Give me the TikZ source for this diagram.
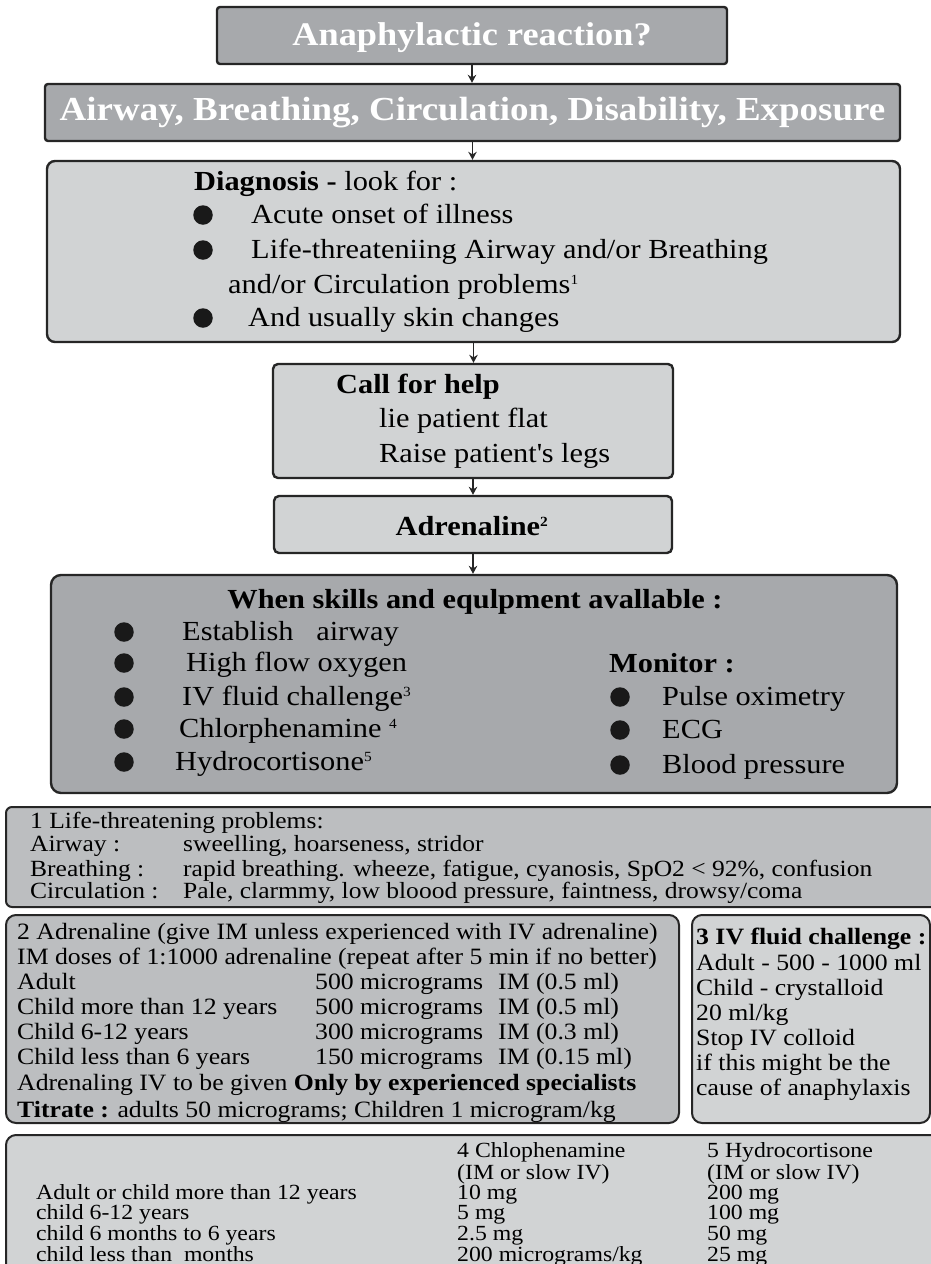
\documentclass[tikz,border=0pt]{standalone}
\usepackage{fontspec}
\setmainfont{Liberation Serif}[FakeStretch=1.1]
\usetikzlibrary{arrows.meta}
\definecolor{midgray}{HTML}{A7A9AC}
\definecolor{lightgray}{HTML}{D1D3D4}
\definecolor{footgray}{HTML}{BCBEC0}
\newcommand{\supn}[1]{\textsuperscript{\fontsize{14}{14}\selectfont #1}}
\tikzset{
  box/.style={draw=black!85, line width=2.4pt, inner sep=0pt},
  arr/.style={line width=1.8pt, draw=black!85, -{Stealth[length=8pt,width=8.5pt]}},
  t/.style={anchor=mid west, inner sep=0pt},
  tc/.style={anchor=mid, inner sep=0pt},
  hd/.style={font=\bfseries\fontsize{33}{36}\selectfont, text=white, yshift=-8pt},
  fa/.style={font=\fontsize{27.6}{30}\selectfont, yshift=-6.5pt},
  fb/.style={font=\fontsize{23.2}{24}\selectfont, yshift=-5pt},
  fc/.style={font=\fontsize{23.4}{25}\selectfont, yshift=-5pt},
  fd/.style={font=\fontsize{21.6}{22}\selectfont, yshift=-5pt},
  bul/.style={circle, fill=black!90, inner sep=0pt, minimum size=19.5pt},
}
\begin{document}
\begin{tikzpicture}[x=1pt,y=-1pt]
\useasboundingbox (0,0) rectangle (931,1264);
% boxes
\node[box, fill=midgray, rounded corners=3pt, minimum width=510pt, minimum height=57pt] (b1) at (472,35.5) {};
\node[box, fill=midgray, rounded corners=3pt, minimum width=855pt, minimum height=57pt] (b2) at (472.5,112.5) {};
\node[box, fill=lightgray, rounded corners=8pt, minimum width=853pt, minimum height=181pt] (b3) at (473.5,251.5) {};
\node[box, fill=lightgray, rounded corners=5pt, minimum width=400pt, minimum height=114pt] (b4) at (473,421) {};
\node[box, fill=lightgray, rounded corners=5pt, minimum width=398pt, minimum height=57pt] (b5) at (473,524.5) {};
\node[box, fill=midgray, rounded corners=10pt, minimum width=846pt, minimum height=218pt] (b6) at (474,684) {};
\node[box, line width=2pt, fill=footgray, rounded corners=6pt, minimum width=939pt, minimum height=100pt] (b7) at (475.5,857) {};
\node[box, line width=2pt, fill=footgray, rounded corners=10pt, minimum width=673pt, minimum height=208pt] (b8) at (342.5,1019) {};
\node[box, line width=2pt, fill=lightgray, rounded corners=10pt, minimum width=238pt, minimum height=208pt] (b9) at (811,1019) {};
\node[box, line width=2pt, fill=lightgray, rounded corners=10pt, minimum width=939pt, minimum height=155pt] (b10) at (475.5,1212.5) {};
% connectors
\draw[arr] (b1.south) -- (b1.south |- b2.north);
\draw[arr] (b2.south) -- (b2.south |- b3.north);
\draw[arr] (b3.south) -- (b3.south |- b4.north);
\draw[arr] (b4.south) -- (b4.south |- b5.north);
\draw[arr] (b5.south) -- (b5.south |- b6.north);
% box 1, 2
\node[tc, hd] (t1) at (472,35) {Anaphylactic reaction?};
\node[tc, hd, font=\bfseries\fontsize{33.6}{36}\selectfont] (t2) at (472.5,110) {Airway, Breathing, Circulation, Disability, Exposure};
% box 3
\node[t, fa] (d0) at (194,182) {\textbf{Diagnosis -} look for :};
\node[bul] (d1b) at (203,215) {};
\node[t, fa] (d1) at (251,215) {Acute onset of illness};
\node[bul] (d2b) at (203,250) {};
\node[t, fa] (d2) at (251,250) {Life-threateniing Airway and/or Breathing};
\node[t, fa] (d3) at (228,285) {and/or Circulation problems\supn{1}};
\node[bul] (d4b) at (203,318) {};
\node[t, fa] (d4) at (248,318) {And usually skin changes};
% box 4
\node[t, fa] (c0) at (336,385) {\textbf{Call for help}};
\node[t, fa] (c1) at (379,419) {lie patient flat};
\node[t, fa] (c2) at (379,454) {Raise patient\textquotesingle s legs};
% box 5
\node[tc, fa] (a0) at (472,527) {\textbf{Adrenaline}\supn{\textbf{2}}};
% box 6
\node[tc, fa] (w0) at (475,600) {\textbf{When skills and equlpment avallable :}};
\node[bul] (w1b) at (124,632) {};
\node[t, fa] (w1) at (182,632) {Establish\ \ \ airway};
\node[bul] (w2b) at (124,663) {};
\node[t, fa] (w2) at (186,663) {High flow oxygen};
\node[bul] (w3b) at (124,697) {};
\node[t, fa] (w3) at (182,697) {IV fluid challenge\supn{3}};
\node[bul] (w4b) at (124,729) {};
\node[t, fa] (w4) at (179,729) {Chlorphenamine \supn{4}};
\node[bul] (w5b) at (124,762) {};
\node[t, fa] (w5) at (175,762) {Hydrocortisone\supn{5}};
\node[t, fa] (m0) at (609,664) {\textbf{Monitor :}};
\node[bul] (m1b) at (620,697) {};
\node[t, fa] (m1) at (662,697) {Pulse oximetry};
\node[bul] (m2b) at (620,730) {};
\node[t, fa] (m2) at (662,730) {ECG};
\node[bul] (m3b) at (620,765) {};
\node[t, fa] (m3) at (662,765) {Blood pressure};
% box 7
\node[t, fb] (f10) at (30,821) {1 Life-threatening problems:};
\node[t, fb] (f11) at (30,844) {Airway :};
\node[t, fb] (f11v) at (183,844) {sweelling, hoarseness, stridor};
\node[t, fb] (f12) at (30,869) {Breathing :};
\node[t, fb] (f12v) at (183,869) {rapid breathing. wheeze, fatigue, cyanosis, SpO2 < 92\%, confusion};
\node[t, fb] (f13) at (30,891) {Circulation :};
\node[t, fb] (f13v) at (183,891) {Pale, clarmmy, low bloood pressure, faintness, drowsy/coma};
% box 8
\node[t, fc] (f20) at (17,932) {2 Adrenaline (give IM unless experienced with IV adrenaline)};
\node[t, fc] (f21) at (17,957) {IM doses of 1:1000 adrenaline (repeat after 5 min if no better)};
\node[t, fc] (f22) at (17,982) {Adult};
\node[t, fc] (f22a) at (315,982) {500 micrograms};
\node[t, fc] (f22b) at (498,982) {IM (0.5 ml)};
\node[t, fc] (f23) at (17,1007) {Child more than 12 years};
\node[t, fc] (f23a) at (315,1007) {500 micrograms};
\node[t, fc] (f23b) at (498,1007) {IM (0.5 ml)};
\node[t, fc] (f24) at (17,1032) {Child 6-12 years};
\node[t, fc] (f24a) at (315,1032) {300 micrograms};
\node[t, fc] (f24b) at (498,1032) {IM (0.3 ml)};
\node[t, fc] (f25) at (17,1057) {Child less than 6 years};
\node[t, fc] (f25a) at (315,1057) {150 micrograms};
\node[t, fc] (f25b) at (498,1057) {IM (0.15 ml)};
\node[t, fc] (f26) at (17,1083) {Adrenaling IV to be given \textbf{Only by experienced specialists}};
\node[t, fc] (f27) at (17,1110) {\textbf{Titrate :} adults 50 micrograms; Children 1 microgram/kg};
% box 9
\node[t, fc] (f30) at (696,937) {\textbf{3 IV fluid challenge :}};
\node[t, fc] (f31) at (696,963) {Adult - 500 - 1000 ml};
\node[t, fc] (f32) at (696,988) {Child - crystalloid};
\node[t, fc] (f33) at (696,1013) {20 ml/kg};
\node[t, fc] (f34) at (696,1038) {Stop IV colloid};
\node[t, fc] (f35) at (696,1063) {if this might be the};
\node[t, fc] (f36) at (696,1088) {cause of anaphylaxis};
% box 10
\node[t, fd] (g01) at (457,1150) {4 Chlophenamine};
\node[t, fd] (g02) at (707,1150) {5 Hydrocortisone};
\node[t, fd] (g11) at (457,1172) {(IM or slow IV)};
\node[t, fd] (g12) at (707,1172) {(IM or slow IV)};
\node[t, fd] (g20) at (36,1192) {Adult or child more than 12 years};
\node[t, fd] (g21) at (457,1192) {10 mg};
\node[t, fd] (g22) at (707,1192) {200 mg};
\node[t, fd] (g30) at (36,1212) {child 6-12 years};
\node[t, fd] (g31) at (457,1212) {5 mg};
\node[t, fd] (g32) at (707,1212) {100 mg};
\node[t, fd] (g40) at (36,1233) {child 6 months to 6 years};
\node[t, fd] (g41) at (457,1233) {2.5 mg};
\node[t, fd] (g42) at (707,1233) {50 mg};
\node[t, fd] (g50) at (36,1254) {child less than\ \ months};
\node[t, fd] (g51) at (457,1254) {200 micrograms/kg};
\node[t, fd] (g52) at (707,1254) {25 mg};
\end{tikzpicture}
\end{document}
